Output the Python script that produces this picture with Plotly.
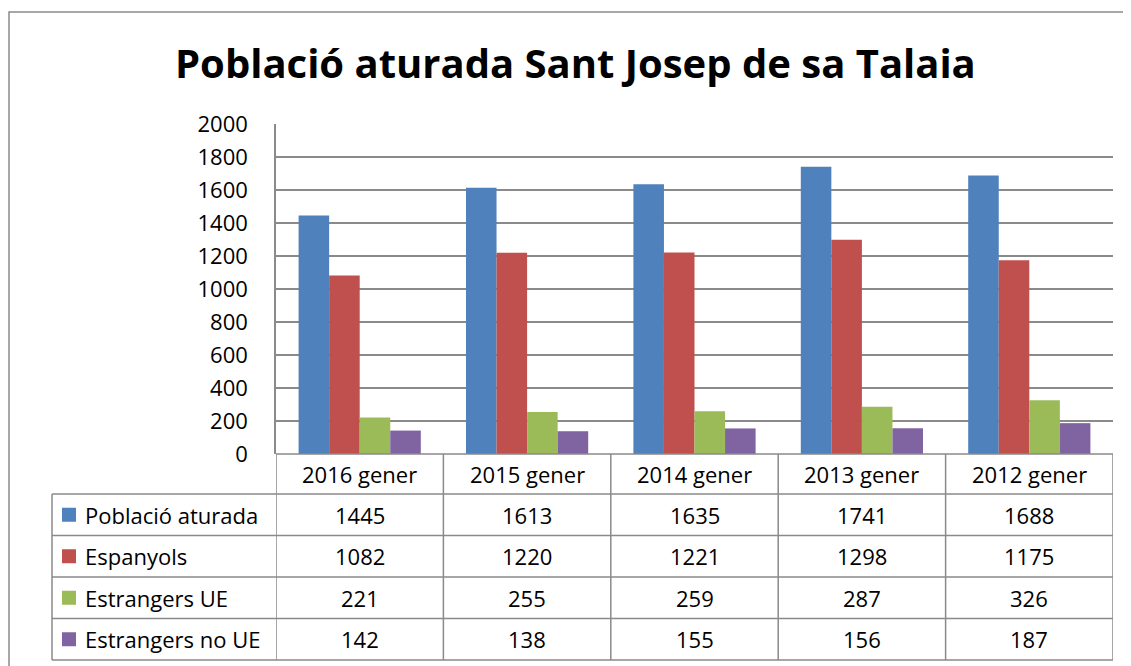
import plotly.graph_objects as go

W, H = 1131, 666
BODY = 8  # default page margin around the plot div

title = "Població aturada Sant Josep de sa Talaia"
categories = ["2016 gener", "2015 gener", "2014 gener", "2013 gener", "2012 gener"]
series_names = ["Població aturada", "Espanyols", "Estrangers UE", "Estrangers no UE"]
aturada = [1445, 1613, 1635, 1741, 1688]
espanyols = [1082, 1220, 1221, 1298, 1175]
estrangers_ue = [221, 255, 259, 287, 326]
estrangers_no_ue = [142, 138, 155, 156, 187]
y_ticks = [0, 200, 400, 600, 800, 1000, 1200, 1400, 1600, 1800, 2000]

series_values = [aturada, espanyols, estrangers_ue, estrangers_no_ue]
colors = ["#4F81BD", "#C0504D", "#9BBB59", "#8064A2"]
grid = "#8a8a8a"
FONT = "Open Sans, sans-serif"


def px(x):
    return (x - BODY) / W


def py(y):
    return 1 - (y - BODY) / H


# plot area in screen pixels
PL, PR, PT, PB = 276, 1113, 124, 454
# table geometry
T_LEFT = 52
HEADER_H = 40
ROW_H = 41.5

fig = go.Figure()
for name, vals, c in zip(series_names, series_values, colors):
    fig.add_trace(go.Bar(
        x=list(range(len(categories))), y=vals, name=name,
        marker=dict(color=c, line=dict(width=0)),
        hoverinfo="y",
    ))

shapes = []
annotations = []

# outer chart border
shapes.append(dict(type="rect", xref="paper", yref="paper",
                   x0=px(9), x1=px(W + 30), y0=py(12), y1=py(H + 30),
                   line=dict(color=grid, width=1.5)))

# table horizontal lines
row_tops = [PB + HEADER_H + i * ROW_H for i in range(len(series_names) + 1)]
for y in row_tops:
    shapes.append(dict(type="line", xref="paper", yref="paper",
                       x0=px(T_LEFT), x1=px(PR), y0=py(y), y1=py(y),
                       line=dict(color=grid, width=1.5)))
# axis line / table top
shapes.append(dict(type="line", xref="paper", yref="paper",
                   x0=px(PL), x1=px(PR), y0=py(PB), y1=py(PB),
                   line=dict(color=grid, width=1.5)))
# vertical lines per category boundary
for i in range(len(categories) + 1):
    shapes.append(dict(type="line", xref="x", yref="paper",
                       x0=i - 0.5, x1=i - 0.5, y0=py(PB), y1=py(row_tops[-1]),
                       line=dict(color=grid, width=1.5)))
shapes.append(dict(type="line", xref="paper", yref="paper",
                   x0=px(T_LEFT), x1=px(T_LEFT), y0=py(row_tops[0]), y1=py(row_tops[-1]),
                   line=dict(color=grid, width=1.5)))

# header labels
for i, cat in enumerate(categories):
    annotations.append(dict(x=i, y=py(PB + HEADER_H / 2), xref="x", yref="paper",
                            text=cat, showarrow=False, xanchor="center", yanchor="middle",
                            font=dict(size=22, color="black", family=FONT)))

# row labels, legend keys and values
for r, (name, vals, c) in enumerate(zip(series_names, series_values, colors)):
    yc = row_tops[r] + ROW_H / 2
    shapes.append(dict(type="rect", xref="paper", yref="paper",
                       x0=px(62), x1=px(76), y0=py(yc - 7), y1=py(yc + 7),
                       fillcolor=c, line=dict(width=0)))
    annotations.append(dict(x=px(83), y=py(yc), xref="paper", yref="paper",
                            text=name, showarrow=False, xanchor="left", yanchor="middle",
                            font=dict(size=22, color="black", family=FONT)))
    for i, v in enumerate(vals):
        annotations.append(dict(x=i, y=py(yc), xref="x", yref="paper",
                                text=str(v), showarrow=False, xanchor="center", yanchor="middle",
                                font=dict(size=22, color="black", family=FONT)))

# title
annotations.append(dict(x=px(575), y=py(63), xref="paper", yref="paper",
                        text="<b>" + title + "</b>", showarrow=False,
                        xanchor="center", yanchor="middle",
                        font=dict(size=40, color="black", family=FONT)))

fig.update_layout(
    width=W, height=H,
    margin=dict(l=0, r=0, t=0, b=0, pad=0),
    paper_bgcolor="white", plot_bgcolor="white",
    barmode="group", bargap=0.27, bargroupgap=0,
    showlegend=False,
    shapes=shapes, annotations=annotations,
    font=dict(family=FONT, color="black"),
    xaxis=dict(domain=[px(PL), px(PR)], range=[-0.5, len(categories) - 0.5],
               showticklabels=False, showgrid=False, zeroline=False, showline=False,
               fixedrange=True, automargin=False),
    yaxis=dict(domain=[py(PB), py(PT)], range=[0, 2000], tickvals=y_ticks,
               showgrid=True, gridcolor=grid, gridwidth=1.5, zeroline=False,
               showline=True, linecolor=grid, linewidth=1.5,
               tickfont=dict(size=22, color="black", family=FONT),
               ticks="", ticklabelstandoff=22, fixedrange=True, automargin=False),
)

fig.write_html("out.html")
